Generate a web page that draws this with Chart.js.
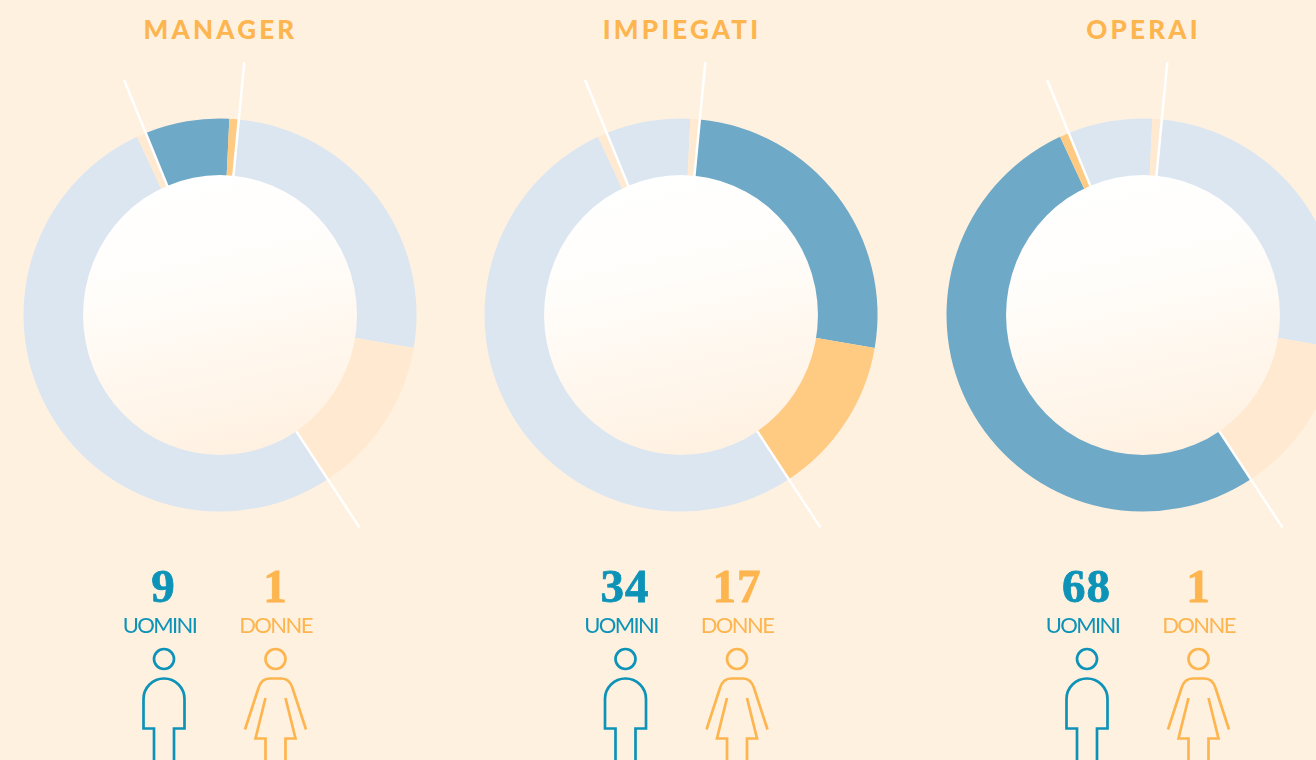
<!DOCTYPE html>
<html lang="it">
<head>
<meta charset="utf-8">
<title>Manager, impiegati, operai</title>
<script src="https://cdn.jsdelivr.net/npm/chart.js@4"></script>
<style>
    html, body { margin: 0; width: 1316px; height: 760px; overflow: hidden; background: #FFF1E0; }
    canvas { position: absolute; top: 55px; }
    svg { position: absolute; left: 0; top: 0; }
    .txt { position: absolute; text-align: center; white-space: nowrap; transform: translateX(-50%); }
    .title { top: 13px; font: 900 26px "Lato"; letter-spacing: 3.2px; color: #FDB54F; }
    .num { top: 559px; font: 700 47px "Liberation Serif"; letter-spacing: 1px; -webkit-text-stroke: 0.8px; }
    .lab { top: 611px; font: 400 22px "Lato"; letter-spacing: -1.6px; }
    .blue { color: #0E93B8; }
    .orange { color: #FDB54F; }
</style>
</head>
<body>
<svg id="icons" width="1316" height="760" fill="none" stroke-width="2.7"></svg>
<script>
    "use strict";

    var titles = ["MANAGER", "IMPIEGATI", "OPERAI"];
    var uomini = [9, 34, 68];
    var donne = [1, 17, 1];
    var labelM = "UOMINI";
    var labelF = "DONNE";
    // clockwise order of the groups around the ring, starting at the top line
    var ringOrder = [1, 2, 0];

    var colBlue = "#6EA9C8", colOrange = "#FFCB82";
    var fadeBlue = "#DCE6F1", fadeOrange = "#FFE9D0";
    var panelX = [219.5, 681, 1142.5];

    // White separators and centre disc, placed from the arcs themselves.
    // The disc is slightly taller than wide in the original, so it sits over the ring's hole.
    var ringDecor = {
        id: "ringDecor",
        afterDatasetsDraw: function (chart) {
            var ctx = chart.ctx;
            var arcs = chart.getDatasetMeta(0).data;
            var x = arcs[0].x, y = arcs[0].y, inner = arcs[0].innerRadius;
            var outer = arcs[0].outerRadius;
            var discW = outer * 0.697, discH = outer * 0.7125;

            ctx.save();
            ctx.strokeStyle = "#FFFFFF";
            ctx.lineWidth = 2.5;
            [1, 3, 5].forEach(function (i) {
                var a = arcs[i].endAngle;
                ctx.beginPath();
                ctx.moveTo(x + Math.cos(a) * inner, y + Math.sin(a) * inner);
                ctx.lineTo(x + Math.cos(a) * outer * 1.293, y + Math.sin(a) * outer * 1.293);
                ctx.stroke();
            });

            var grad = ctx.createLinearGradient(x - 30, y - discH, x + 30, y + discH);
            grad.addColorStop(0, "#FFFFFF");
            grad.addColorStop(0.35, "#FFFDFA");
            grad.addColorStop(1, "#FFF1E1");
            ctx.fillStyle = grad;
            ctx.beginPath();
            ctx.ellipse(x, y, discW, discH, 0, 0, Math.PI * 2);
            ctx.fill();
            ctx.restore();
        }
    };

    function addText(cls, x, text) {
        var d = document.createElement("div");
        d.className = "txt " + cls;
        d.style.left = x + "px";
        d.textContent = text;
        document.body.appendChild(d);
    }

    function addShape(tag, attrs) {
        var el = document.createElementNS("http://www.w3.org/2000/svg", tag);
        Object.keys(attrs).forEach(function (k) { el.setAttribute(k, attrs[k]); });
        document.getElementById("icons").appendChild(el);
    }

    function drawMan(x) {
        addShape("circle", { cx: x, cy: 659, r: 10, stroke: "#0E93B8" });
        addShape("path", {
            stroke: "#0E93B8",
            d: "M" + (x - 10) + " 762V728.5H" + (x - 20.5) + "V699a20.5 20.5 0 0 1 41 0V728.5H" + (x + 10) + "V762"
        });
    }

    function drawWoman(x) {
        addShape("circle", { cx: x, cy: 659, r: 10, stroke: "#FDB54F" });
        addShape("path", {
            stroke: "#FDB54F",
            d: "M" + (x - 30.5) + " 729.5L" + (x - 17) + " 688Q" + (x - 14) + " 678.5 " + (x - 6) + " 678.5H" + (x + 6) +
               "Q" + (x + 14) + " 678.5 " + (x + 17) + " 688L" + (x + 30.5) + " 729.5"
        });
        addShape("path", {
            stroke: "#FDB54F",
            d: "M" + (x - 10) + " 698L" + (x - 20) + " 738.5H" + (x - 10) + "V762M" + (x + 10) + " 762V738.5H" + (x + 20) + "L" + (x + 10) + " 698"
        });
    }

    titles.forEach(function (title, p) {
        var values = [], colors = [];
        ringOrder.forEach(function (g) {
            values.push(uomini[g], donne[g]);
            colors.push(g === p ? colBlue : fadeBlue, g === p ? colOrange : fadeOrange);
        });

        var canvas = document.createElement("canvas");
        canvas.width = 520;
        canvas.height = 520;
        canvas.style.left = (panelX[p] - 260) + "px";
        document.body.appendChild(canvas);

        new Chart(canvas.getContext("2d"), {
            type: "doughnut",
            data: {
                labels: ringOrder.reduce(function (acc, g) {
                    return acc.concat([titles[g] + " " + labelM, titles[g] + " " + labelF]);
                }, []),
                datasets: [{ data: values, backgroundColor: colors, borderWidth: 0 }]
            },
            options: {
                responsive: false,
                animation: false,
                rotation: 5.5,
                radius: 196.5,
                cutout: "67%",
                events: [],
                plugins: { legend: { display: false }, tooltip: { enabled: false } }
            },
            plugins: [ringDecor]
        });

        addText("title", panelX[p] + 1, title);
        addText("num blue", panelX[p] - 56, uomini[p]);
        addText("num orange", panelX[p] + 56, donne[p]);
        addText("lab blue", panelX[p] - 60, labelM);
        addText("lab orange", panelX[p] + 56, labelF);
        drawMan(panelX[p] - 55.5);
        drawWoman(panelX[p] + 56);
    });
</script>
</body>
</html>
